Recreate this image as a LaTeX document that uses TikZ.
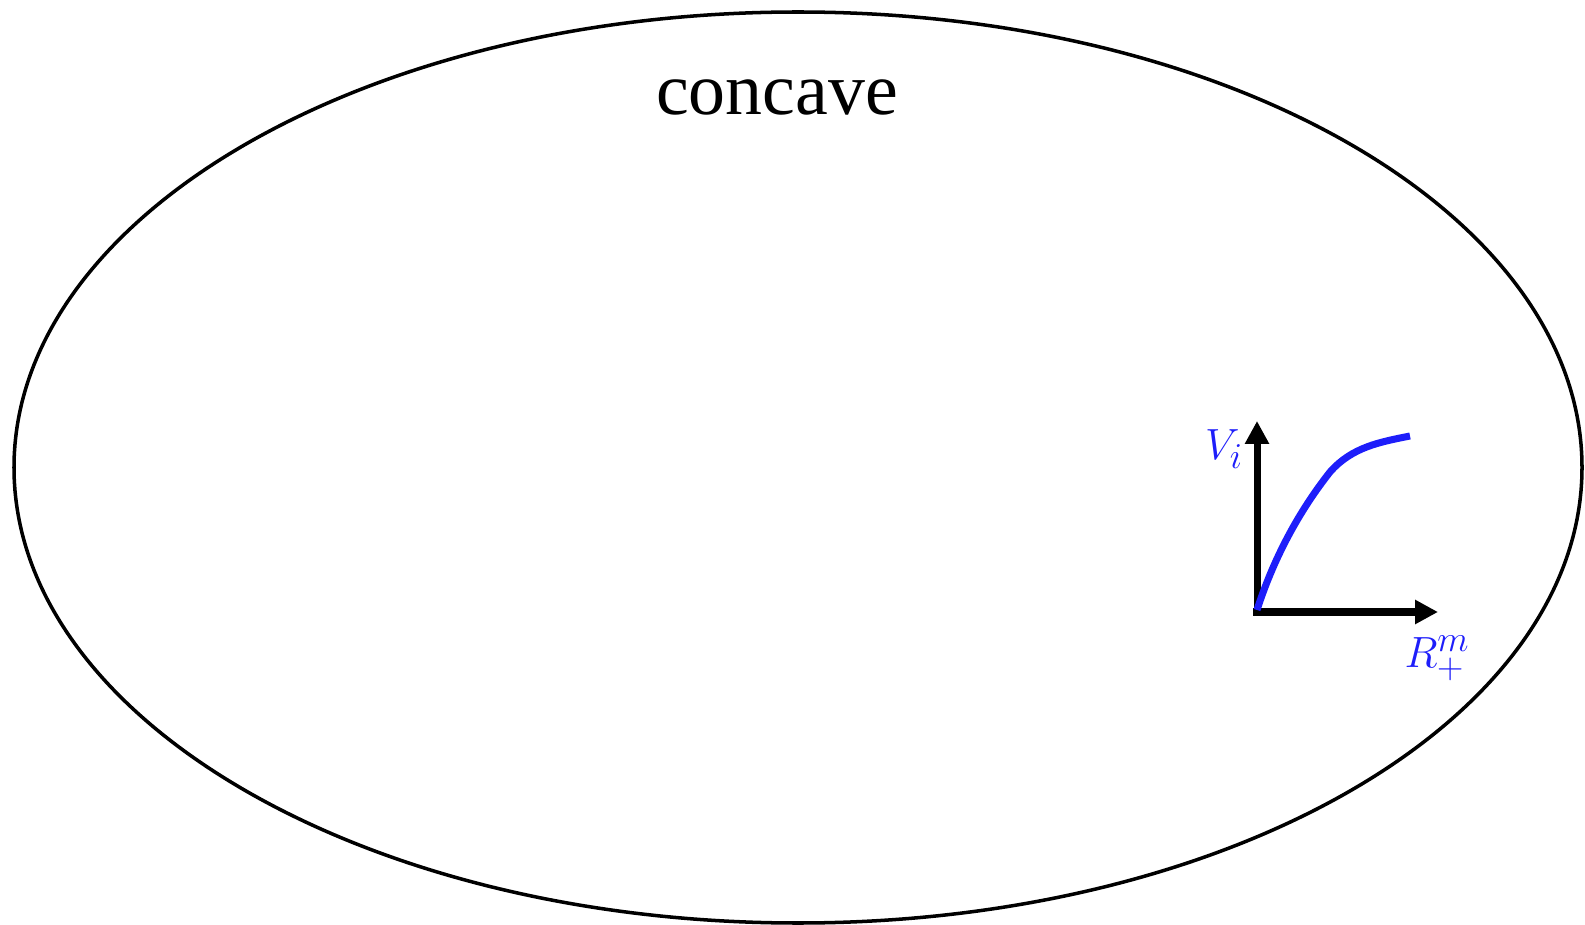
\documentclass[tikz,border=0pt]{standalone}
\usepackage{fontspec}
\setmainfont{Liberation Serif}
\DeclareMathSizes{26}{26}{20}{15}
\usetikzlibrary{arrows.meta}
\definecolor{curveblue}{RGB}{30,30,250}
\begin{document}
\begin{tikzpicture}[x=0.02cm,y=-0.02cm,
  axis/.style={line width=4pt,-{Triangle[length=13pt,width=13pt]}},
  curve/.style={curveblue,line width=4pt},
  lbl/.style={text=curveblue,font=\fontsize{26}{30}\selectfont,inner sep=0pt}]
\useasboundingbox (0,0) rectangle (1585,925);
\draw[line width=2pt] (798,467.5) ellipse [x radius=784, y radius=455.5];
\node[anchor=base,font=\fontsize{42}{48}\selectfont,inner sep=0pt] (title) at (777,115) {concave};
\coordinate (o) at (1257,612);
\coordinate (vb) at (1257,616);
\coordinate (vt) at (1257,421);
\coordinate (hl) at (1253,612);
\coordinate (ht) at (1438,612);
\coordinate (c0) at (1257,610);
\coordinate (c1) at (1330,472);
\coordinate (c2) at (1410,436);
\draw[axis] (vb) -- (vt);
\draw[axis] (hl) -- (ht);
\draw[curve] (c0) .. controls (1278,545) and (1308,500) .. (c1) .. controls (1352,447) and (1380,442) .. (c2);
\node[lbl] (vi) at (1224,449) {$V_i$};
\node[lbl] (rm) at (1437,658) {$R_+^m$};
\end{tikzpicture}
\end{document}
